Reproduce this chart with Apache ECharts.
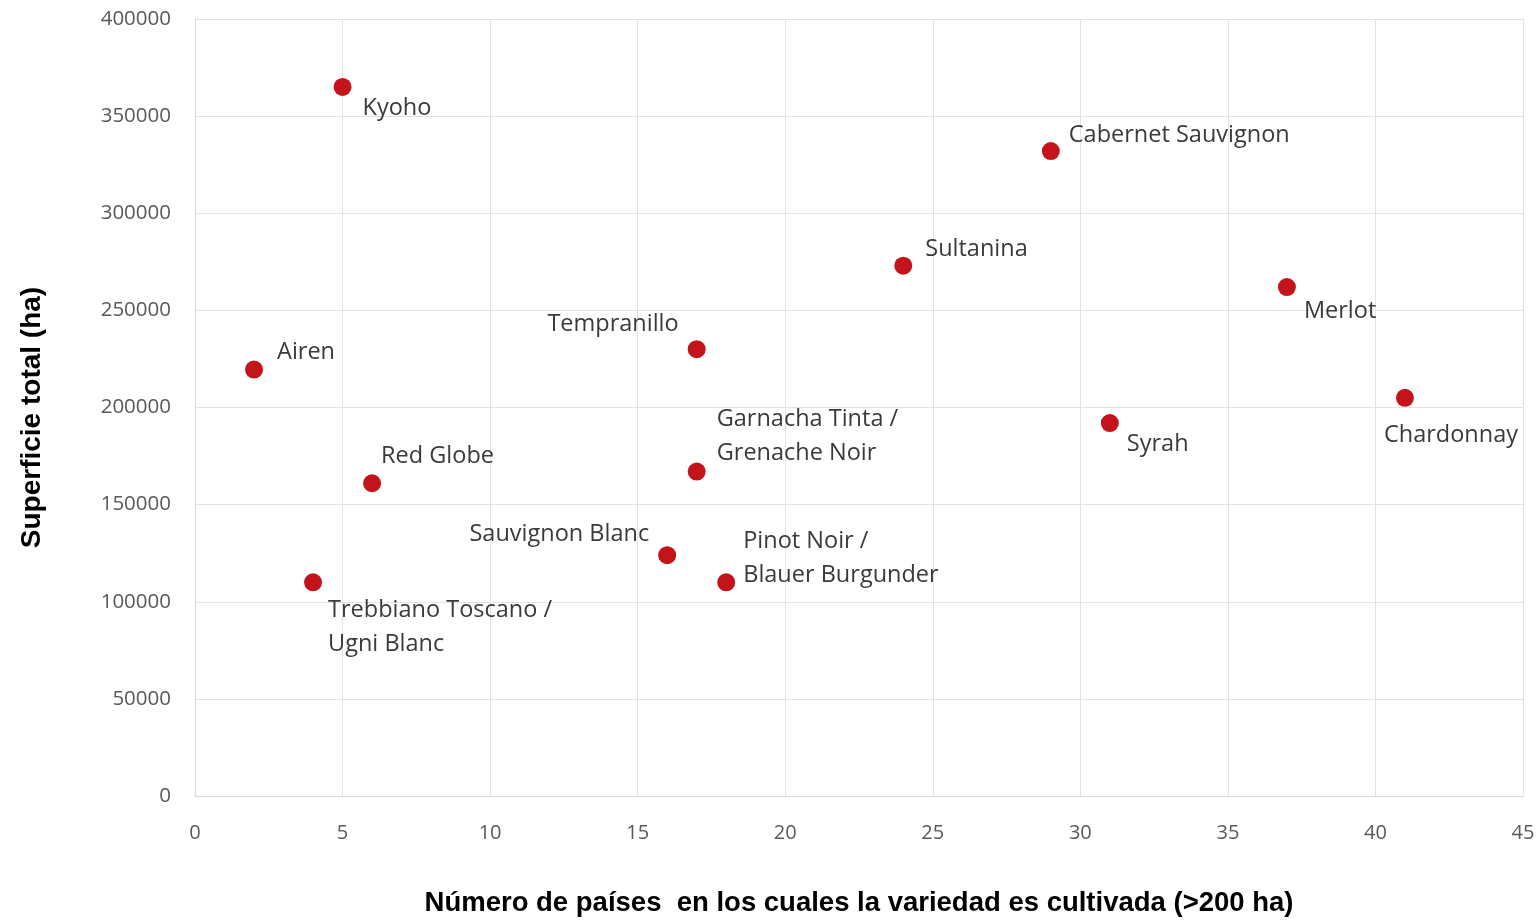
<!DOCTYPE html>
<html>
<head>
<meta charset="utf-8">
<script src="https://cdn.jsdelivr.net/npm/echarts@6/dist/echarts.min.js"></script>
<style>
  html, body { margin: 0; padding: 0; background: #fff; }
  #scatter { width: 1540px; height: 922px; }
</style>
</head>
<body>
<div id="scatter"></div>
<script>
// varieties, number of countries, total area (ha)
const varieties = ['Kyoho', 'Cabernet Sauvignon', 'Sultanina', 'Merlot', 'Tempranillo', 'Airen',
  'Chardonnay', 'Syrah', 'Garnacha Tinta /\nGrenache Noir', 'Red Globe', 'Sauvignon Blanc',
  'Pinot Noir /\nBlauer Burgunder', 'Trebbiano Toscano /\nUgni Blanc'];
const countries = [5, 29, 24, 37, 17, 2, 41, 31, 17, 6, 16, 18, 4];
const areaHa = [365000, 332000, 273000, 262000, 230000, 219500, 205000, 192000, 167000, 161000, 124000, 110000, 110000];

// label placement per point (pixels from the marker centre), same order as above
const labelPlace = [
  {dx: 20, dy: 21, align: 'left'},
  {dx: 18, dy: -16, align: 'left'},
  {dx: 22, dy: -16, align: 'left'},
  {dx: 17, dy: 24, align: 'left'},
  {dx: -18, dy: -25, align: 'right'},
  {dx: 23, dy: -17, align: 'left'},
  {dx: -21, dy: 38, align: 'left'},
  {dx: 17, dy: 21, align: 'left'},
  {dx: 20, dy: -35, align: 'left'},
  {dx: 9, dy: -27, align: 'left'},
  {dx: -18, dy: -21, align: 'right'},
  {dx: 17, dy: -24, align: 'left'},
  {dx: 15, dy: 45, align: 'left'}
];

let myChart = echarts.init(document.getElementById('scatter'));

let points = varieties.map((name, i) => {
  let p = labelPlace[i];
  return {
    name: name,
    value: [countries[i], areaHa[i]],
    label: {
      offset: [p.dx, p.dy],
      align: p.align
    }
  };
});

let option = {
  animation: false,
  grid: {
    left: 195,
    right: 17,
    top: 19,
    bottom: 123
  },
  xAxis: {
    type: 'value',
    min: 0,
    max: 45,
    interval: 5,
    name: 'Número de países  en los cuales la variedad es cultivada (>200 ha)',
    nameLocation: 'middle',
    nameGap: 93,
    nameTextStyle: {
      fontFamily: 'Liberation Sans',
      fontWeight: 'bold',
      fontSize: 27.5,
      color: '#000'
    },
    axisLine: { show: true, lineStyle: { color: '#d9d9d9', width: 1 } },
    axisTick: { show: false },
    axisLabel: {
      margin: 27,
      fontFamily: 'Open Sans',
      fontSize: 20,
      color: '#595959'
    },
    splitLine: { show: true, lineStyle: { color: '#e3e3e3', width: 1 } }
  },
  yAxis: {
    type: 'value',
    min: 0,
    max: 400000,
    interval: 50000,
    name: 'Superficie total (ha)',
    nameLocation: 'middle',
    nameGap: 149,
    nameTextStyle: {
      fontFamily: 'Liberation Sans',
      fontWeight: 'bold',
      fontSize: 28,
      color: '#000',
      padding: [0, 20, 0, 0]
    },
    axisLine: { show: true, lineStyle: { color: '#d9d9d9', width: 1 } },
    axisTick: { show: false },
    axisLabel: {
      margin: 24,
      fontFamily: 'Open Sans',
      fontSize: 20.5,
      color: '#595959',
      formatter: (v) => String(v)
    },
    splitLine: { show: true, lineStyle: { color: '#e3e3e3', width: 1 } }
  },
  series: [{
    type: 'scatter',
    symbol: 'circle',
    symbolSize: 18,
    itemStyle: {
      color: '#c3141c',
      opacity: 1
    },
    label: {
      show: true,
      position: 'inside',
      formatter: '{b}',
      verticalAlign: 'middle',
      fontFamily: 'Open Sans',
      fontSize: 23.5,
      lineHeight: 34,
      color: '#3a3a3a'
    },
    data: points
  }]
};

myChart.setOption(option);
</script>
</body>
</html>
